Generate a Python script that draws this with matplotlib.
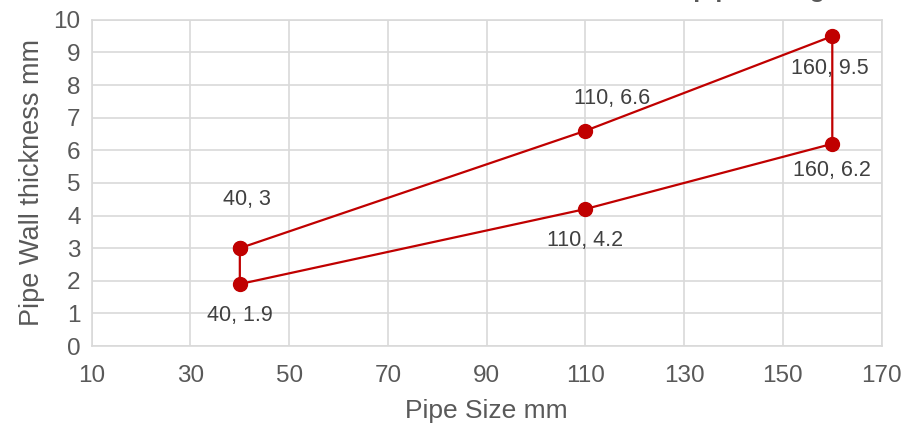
import matplotlib.pyplot as plt

plt.rcParams['font.family'] = ['Liberation Sans', 'DejaVu Sans']

# closed outline of wall thickness vs pipe size
pipe_size = [40, 110, 160, 160, 110, 40, 40]
wall = [3, 6.6, 9.5, 6.2, 4.2, 1.9, 3]

# data labels (x, y, text) and their offsets in points
labels = [(40, 3, '40, 3'), (110, 6.6, '110, 6.6'), (160, 9.5, '160, 9.5'),
          (160, 6.2, '160, 6.2'), (110, 4.2, '110, 4.2'), (40, 1.9, '40, 1.9')]
offsets = [(5, 35), (19, 23), (-2, -23), (0, -19), (0, -23), (0, -23)]

red = '#C00000'
grey = '#595959'

fig = plt.figure(figsize=(9.08, 4.23), dpi=100)
ax = fig.add_axes([0.101, 0.182, 0.870, 0.771])

ax.plot(pipe_size, wall, color=red, linewidth=1.6, marker='o',
        markersize=10, zorder=3)

for (x, y, t), (dx, dy) in zip(labels, offsets):
    ax.annotate(t, (x, y), xytext=(dx, dy), textcoords='offset points',
                ha='center', va='center', fontsize=15.5, color='#404040')

ax.set_xlim(10, 170)
ax.set_ylim(0, 10)
ax.set_xticks(range(10, 171, 20))
ax.set_yticks(range(0, 11))
ax.grid(True, color='#D9D9D9', linewidth=1.2)
ax.set_axisbelow(True)
for s in ax.spines.values():
    s.set_color('#D9D9D9')
    s.set_linewidth(1.2)
ax.tick_params(length=0, labelsize=17.5, colors=grey)
ax.tick_params(axis='x', pad=14)
ax.tick_params(axis='y', pad=8)
ax.set_xlabel('Pipe Size mm', fontsize=19, color=grey, labelpad=8)
ax.set_ylabel('Pipe Wall thickness mm', fontsize=19.5, color=grey, labelpad=6)

# chart title sits above the visible area, only its descenders show
fig.text(825 / 908, 1 + 3 / 423, 'Wall Thickness vs pipe Sizing', ha='right',
         va='baseline', fontsize=18, fontweight='bold', color=grey)

fig.savefig('out.png', dpi=100)
